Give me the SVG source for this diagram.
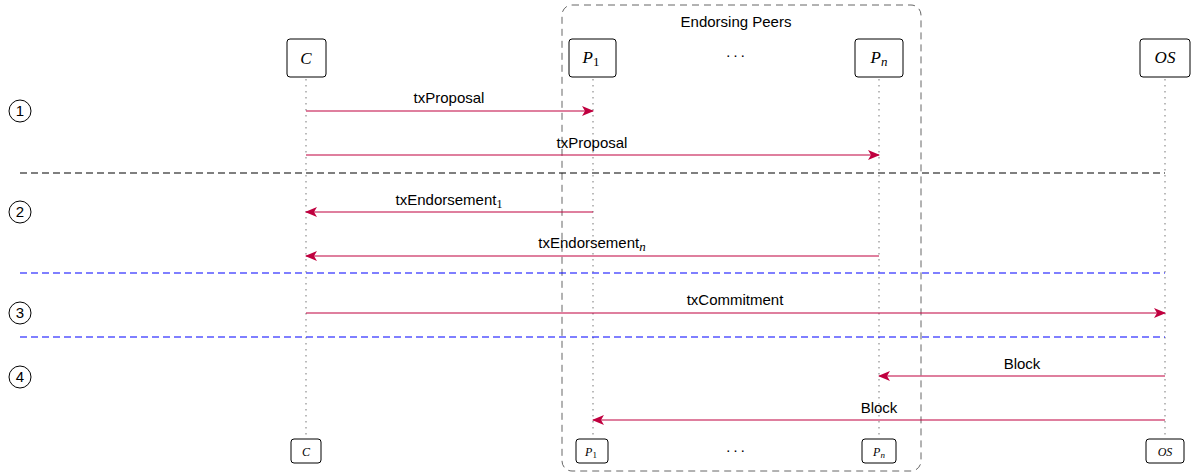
<svg xmlns="http://www.w3.org/2000/svg" width="1191" height="476" viewBox="0 0 1191 476">
<style>
.node rect{fill:#fff;stroke:#000;stroke-width:1}
.m{font-family:"Liberation Serif",serif;font-style:italic;text-anchor:middle}
.s{font-family:"Liberation Sans",Arial,sans-serif;font-size:15px;text-anchor:middle;fill:#000}
.life{stroke:#aaa;stroke-width:1.6;stroke-dasharray:1.5 4.5}
.msg{stroke:#c0003f;stroke-width:1.1;fill:none;marker-end:url(#ah)}
.sep{stroke-width:1.1;stroke-dasharray:7 4;fill:none}
.step circle{fill:#fff;stroke:#000;stroke-width:1}
</style>
<defs>
<marker id="ah" viewBox="0 0 12 10" refX="11" refY="5" markerWidth="12" markerHeight="10" markerUnits="userSpaceOnUse" orient="auto">
<path d="M0,0 L12,5 L0,10 L3,5 Z" fill="#c0003f"/>
</marker>
</defs>
<rect id="peers" x="562" y="5" width="359" height="466" rx="10" fill="none" stroke="#666" stroke-width="1" stroke-dasharray="7 5"/>
<text class="s" x="736" y="27">Endorsing Peers</text>
<g id="lifelines">
<line class="life" x1="306" y1="79" x2="306" y2="437"/>
<line class="life" x1="593" y1="79" x2="593" y2="437"/>
<line class="life" x1="879" y1="79" x2="879" y2="437"/>
<line class="life" x1="1165" y1="79" x2="1165" y2="437"/>
</g>
<g id="separators">
<line class="sep" x1="20" y1="173" x2="1165" y2="173" stroke="#000"/>
<line class="sep" x1="20" y1="273" x2="1165" y2="273" stroke="#0000ff"/>
<line class="sep" x1="20" y1="337" x2="1165" y2="337" stroke="#0000ff"/>
</g>
<g id="node-C" class="node"><rect x="287" y="39" width="39" height="38" rx="3"/><text class="m" x="306" y="64" font-size="17">C</text></g>
<g id="node-P1" class="node"><rect x="569" y="39" width="47" height="38" rx="3"/><text class="m" x="591" y="63" font-size="17">P<tspan font-style="normal" font-size="13" dy="3">1</tspan></text></g>
<text id="dots-top" class="s" x="735" y="60" letter-spacing="-1">· · ·</text>
<g id="node-Pn" class="node"><rect x="855" y="39" width="48" height="38" rx="3"/><text class="m" x="879" y="63" font-size="17">P<tspan font-size="13" dy="3">n</tspan></text></g>
<g id="node-OS" class="node"><rect x="1140" y="39" width="50" height="38" rx="3"/><text class="m" x="1165" y="63" font-size="17">OS</text></g>
<g id="node-C-b" class="node"><rect x="291" y="439" width="30" height="24" rx="3"/><text class="m" x="306" y="456" font-size="12">C</text></g>
<g id="node-P1-b" class="node"><rect x="576" y="439" width="32" height="24" rx="3"/><text class="m" x="591" y="456" font-size="12">P<tspan font-style="normal" font-size="9" dy="2">1</tspan></text></g>
<text id="dots-bot" class="s" x="735" y="455" letter-spacing="-1">· · ·</text>
<g id="node-Pn-b" class="node"><rect x="862" y="439" width="34" height="24" rx="3"/><text class="m" x="879" y="456" font-size="12">P<tspan font-size="9" dy="2">n</tspan></text></g>
<g id="node-OS-b" class="node"><rect x="1146" y="439" width="38" height="24" rx="3"/><text class="m" x="1165" y="456" font-size="12">OS</text></g>
<g id="steps" class="step">
<circle cx="20" cy="111" r="11"/><text class="s" x="20" y="116">1</text>
<circle cx="20" cy="212" r="11"/><text class="s" x="20" y="217">2</text>
<circle cx="20" cy="313" r="11"/><text class="s" x="20" y="318">3</text>
<circle cx="20" cy="377" r="11"/><text class="s" x="20" y="382">4</text>
</g>
<g id="connectors">
<line class="msg" x1="306" y1="111" x2="593" y2="111"/>
<text class="s" x="449" y="103">txProposal</text>
<line class="msg" x1="306" y1="155" x2="879" y2="155"/>
<text class="s" x="592" y="148">txProposal</text>
<line class="msg" x1="593" y1="212" x2="306" y2="212"/>
<text class="s" x="449" y="205">txEndorsement<tspan font-family="Liberation Serif,serif" font-size="12" dy="3">1</tspan></text>
<line class="msg" x1="879" y1="256" x2="306" y2="256"/>
<text class="s" x="592" y="248">txEndorsement<tspan font-family="Liberation Serif,serif" font-style="italic" font-size="13" dy="3">n</tspan></text>
<line class="msg" x1="306" y1="313" x2="1165" y2="313"/>
<text class="s" x="735" y="305">txCommitment</text>
<line class="msg" x1="1165" y1="376" x2="879" y2="376"/>
<text class="s" x="1022" y="369">Block</text>
<line class="msg" x1="1165" y1="420" x2="593" y2="420"/>
<text class="s" x="879" y="413">Block</text>
</g>
</svg>
